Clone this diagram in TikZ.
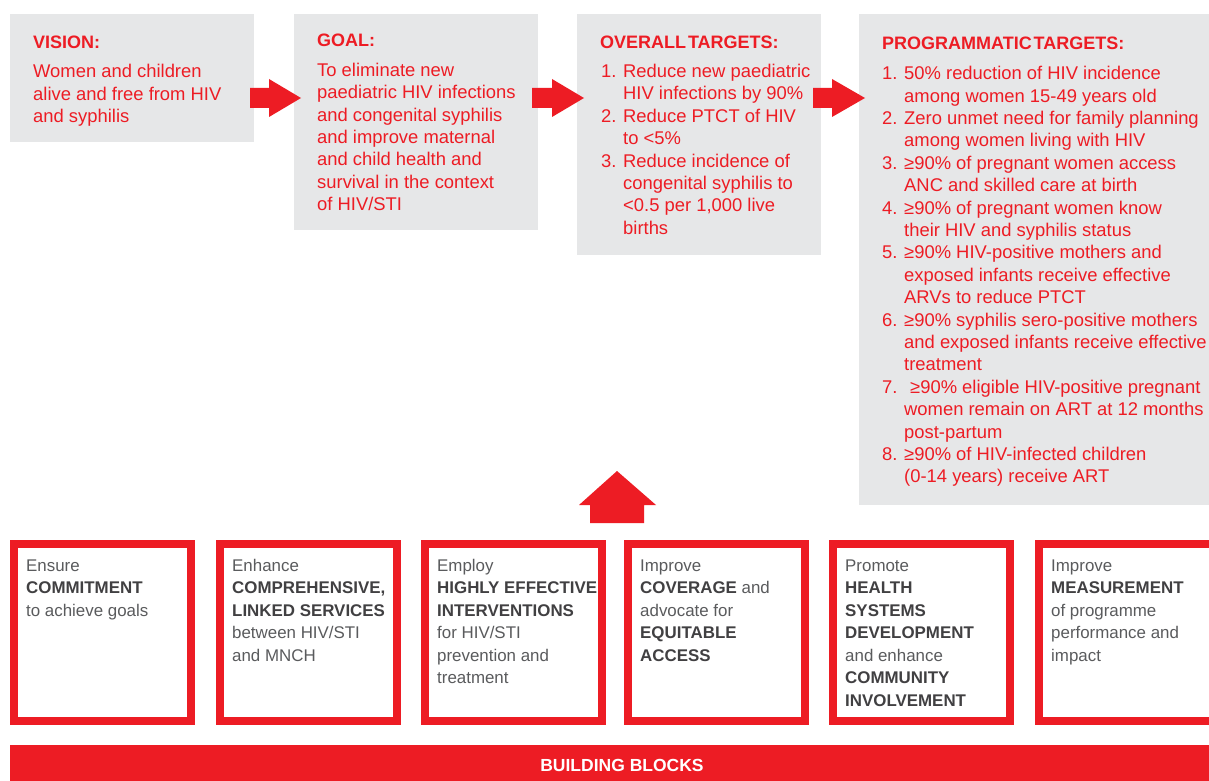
\documentclass[tikz,border=0pt]{standalone}
\usepackage{fontspec}
\setmainfont{Liberation Sans}
\definecolor{brand}{HTML}{ED1C24}
\definecolor{panel}{HTML}{E6E7E8}
\definecolor{txtgray}{HTML}{5A5B5D}
\definecolor{txtdark}{HTML}{414042}
\newcommand\lnum[1]{\makebox[22pt][l]{#1}}
\newcommand\lind{\hspace*{22pt}}
\newcommand\bk[1]{{\color{txtdark}\bfseries #1}}
\tikzset{
  panelbox/.style={fill=panel, draw=none},
  paneltitle/.style={anchor=base west, inner sep=0pt, text=brand, font=\fontsize{18}{22.4}\selectfont\bfseries},
  panelbody/.style={anchor=north west, inner sep=0pt, align=left, text=brand, font=\fontsize{18.4}{22.4}\selectfont},
  blockframe/.style={draw=brand, line width=8pt, fill=white},
  blocktext/.style={anchor=north west, inner sep=0pt, align=left, text=txtgray, font=\fontsize{16.9}{22.5}\selectfont},
  bigarrow/.style={fill=brand, draw=none},
}
\begin{document}
\begin{tikzpicture}[x=1pt, y=-1pt]
\useasboundingbox (0,0) rectangle (1209,781);
\clip (0,0) rectangle (1209,781);
\fill[white] (0,0) rectangle (1209,781);

% grey panels
\fill[panelbox] (10,14) rectangle (254,142);
\fill[panelbox] (294,14) rectangle (538,230);
\fill[panelbox] (577,14) rectangle (821,255);
\fill[panelbox] (859,14) rectangle (1230,505);

% right arrows
\fill[bigarrow] (250,88) -- (269,88) -- (269,79) -- (301,98) -- (269,117) -- (269,108) -- (250,108) -- cycle;
\fill[bigarrow] (532,88) -- (552,88) -- (552,79) -- (584,98) -- (552,117) -- (552,108) -- (532,108) -- cycle;
\fill[bigarrow] (813,88) -- (832,88) -- (832,79) -- (865,98) -- (832,117) -- (832,108) -- (813,108) -- cycle;

% titles
\node[paneltitle] (vtitle) at (33,48.3) {VISION:};
\node[paneltitle] (gtitle) at (317,46.8) {GOAL:};
\node[paneltitle] (otitle) at (600,48.3) {OVERALL\hspace{0.1em}TARGETS:};
\node[paneltitle] (ptitle) at (882,49.2) {PROGRAMMATIC\hspace{0.1em}TARGETS:};

% bodies
\node[panelbody] (vbody) at (33,61.8) {\strut Women and children\\alive and free from HIV\\and syphilis};
\node[panelbody] (gbody) at (317,60.4) {\strut To eliminate new\\paediatric HIV infections\\and congenital syphilis\\and improve maternal\\and child health and\\survival in the context\\of HIV/STI};
\node[panelbody] (obody) at (601,61.6) {\strut\lnum{1.}Reduce new paediatric\\\lind HIV infections by 90\%\\\lnum{2.}Reduce PTCT of HIV\\\lind to <5\%\\\lnum{3.}Reduce incidence of\\\lind congenital syphilis to\\\lind <0.5 per 1,000 live\\\lind births};
\node[panelbody] (pbody) at (882,63.8) {\strut\lnum{1.}50\% reduction of HIV incidence\\\lind among women 15-49 years old\\\lnum{2.}Zero unmet need for family planning\\\lind among women living with HIV\\\lnum{3.}≥90\% of pregnant women access\\\lind ANC and skilled care at birth\\\lnum{4.}≥90\% of pregnant women know\\\lind their HIV and syphilis status\\\lnum{5.}≥90\% HIV-positive mothers and\\\lind exposed infants receive effective\\\lind ARVs to reduce PTCT\\\lnum{6.}≥90\% syphilis sero-positive mothers\\\lind and exposed infants receive effective\\\lind treatment\\\lnum{7.}\hspace{6pt}≥90\% eligible HIV-positive pregnant\\\lind women remain on ART at 12 months\\\lind post-partum\\\lnum{8.}≥90\% of HIV-infected children\\\lind (0-14 years) receive ART};

% up arrow
\fill[bigarrow] (590,523) -- (590,505) -- (579,505) -- (617,471) -- (656,505) -- (644,505) -- (644,523) -- cycle;

% building block frames
\draw[blockframe] (14,544) rectangle (191,721);
\draw[blockframe] (220,544) rectangle (397,721);
\draw[blockframe] (425,544) rectangle (602,721);
\draw[blockframe] (628,544) rectangle (805,721);
\draw[blockframe] (833,544) rectangle (1010,721);
\draw[blockframe] (1039,544) rectangle (1216,721);

\node[blocktext] (b1) at (26,555.3) {\strut Ensure\\\bk{COMMITMENT}\\to achieve goals};
\node[blocktext] (b2) at (232,555.3) {\strut Enhance\\\bk{COMPREHENSIVE,}\\\bk{LINKED SERVICES}\\between HIV/STI\\and MNCH};
\node[blocktext] (b3) at (437,555.3) {\strut Employ\\\bk{HIGHLY EFFECTIVE}\\\bk{INTERVENTIONS}\\for HIV/STI\\prevention and\\treatment};
\node[blocktext] (b4) at (640,555.3) {\strut Improve\\\bk{COVERAGE} and\\advocate for\\\bk{EQUITABLE}\\\bk{ACCESS}};
\node[blocktext] (b5) at (845,555.3) {\strut Promote\\\bk{HEALTH}\\\bk{SYSTEMS}\\\bk{DEVELOPMENT}\\and enhance\\\bk{COMMUNITY}\\\bk{INVOLVEMENT}};
\node[blocktext] (b6) at (1051,555.3) {\strut Improve\\\bk{MEASUREMENT}\\of programme\\performance and\\impact};

% base bar
\fill[brand] (10,745) rectangle (1230,790);
\node[inner sep=0pt, text=white, font=\fontsize{17.5}{20}\selectfont\bfseries] (bar) at (622,765) {BUILDING BLOCKS};
\end{tikzpicture}
\end{document}
